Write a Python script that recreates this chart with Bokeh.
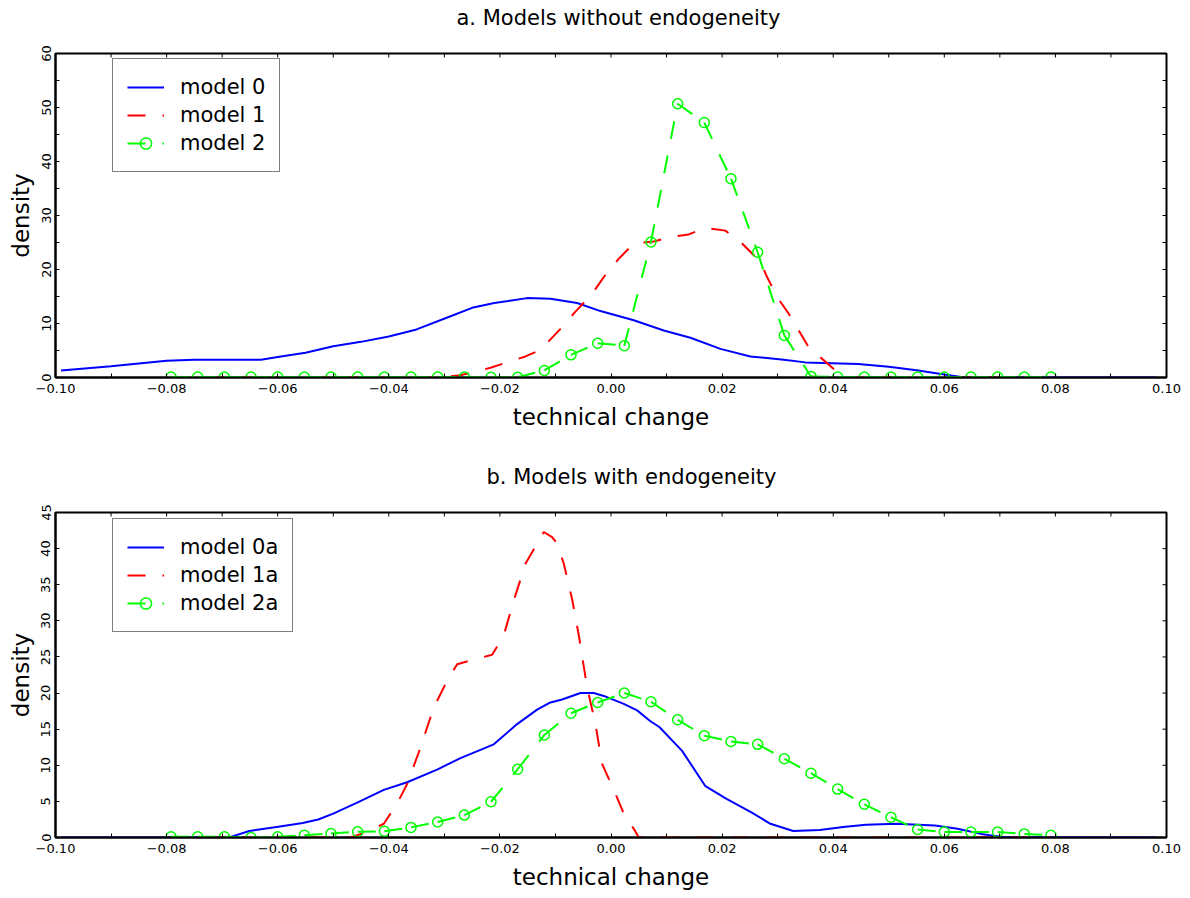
import math
from bokeh.plotting import figure
from bokeh.models import (Legend, LegendItem, Range1d, FixedTicker,
                          ColumnDataSource, CustomJSTickFormatter)
from bokeh.layouts import column
from bokeh.embed import file_html
from bokeh.resources import INLINE

FONT = "DejaVu Sans"

# ---------------- data ----------------
# common evaluation grid of the circle-marked series
grid_x = [-0.0792, -0.0744, -0.0696, -0.0648, -0.0600, -0.0552, -0.0504, -0.0456,
          -0.0408, -0.0360, -0.0312, -0.0264, -0.0216, -0.0168, -0.0120, -0.0072,
          -0.0024, 0.0024, 0.0072, 0.0120, 0.0168, 0.0216, 0.0264, 0.0312,
          0.0360, 0.0408, 0.0456, 0.0504, 0.0552, 0.0600, 0.0648, 0.0696,
          0.0744, 0.0792]

# panel a
m0_x = [-0.099, -0.09, -0.08, -0.075, -0.07, -0.063, -0.06, -0.055, -0.05, -0.045,
        -0.04, -0.035, -0.029, -0.025, -0.021, -0.0151, -0.0109, -0.0061, -0.0019,
        0.0041, 0.0095, 0.0143, 0.0197, 0.0251, 0.0311, 0.035, 0.0445, 0.05, 0.055,
        0.06, 0.063, 0.065, 0.098]
m0_y = [1.3, 2.1, 3.1, 3.3, 3.3, 3.3, 3.8, 4.6, 5.8, 6.6,
        7.6, 8.9, 11.3, 12.9, 13.8, 14.7, 14.6, 13.8, 12.3,
        10.6, 8.7, 7.35, 5.3, 3.9, 3.3, 2.8, 2.5, 2.0, 1.35,
        0.55, 0.1, 0.0, 0.0]

m1_x = [-0.0792, -0.0312, -0.0271, -0.0217, -0.0154, -0.0127, -0.0091, -0.0064,
        -0.0034, -0.0013, 0.0014, 0.0041, 0.0077, 0.0107, 0.014, 0.017, 0.0206,
        0.0236, 0.0269, 0.0281, 0.0299, 0.032, 0.0338, 0.0356, 0.0411, 0.0425, 0.0792]
m1_y = [0.0, 0.0, 0.4, 1.8, 3.9, 5.1, 9.0, 12.2,
        15.5, 18.6, 22.0, 24.8, 25.2, 26.0, 26.5, 27.7, 27.2,
        24.8, 21.4, 18.6, 14.9, 11.8, 8.7, 5.6, 0.7, 0.0, 0.0]

m2_y = [0.1, 0.1, 0.1, 0.1, 0.1, 0.1, 0.1, 0.1, 0.1, 0.1, 0.1, 0.1, 0.05, 0.05,
        1.3, 4.2, 6.35, 5.9, 25.1, 50.7, 47.2, 36.8, 23.2, 7.8, 0.2,
        0.1, 0.1, 0.1, 0.1, 0.1, 0.1, 0.1, 0.1, 0.1]

# panel b
m0a_x = [-0.099, -0.0686, -0.0651, -0.0599, -0.0555, -0.0527, -0.05, -0.0455,
         -0.0409, -0.0367, -0.0313, -0.0271, -0.0211, -0.0169, -0.0133, -0.0109,
         -0.0088, -0.0055, -0.0031, -0.0013, 0.0023, 0.0047, 0.0071, 0.0087,
         0.0128, 0.017, 0.0208, 0.0252, 0.0287, 0.0328, 0.0376, 0.0418, 0.0459,
         0.0514, 0.0583, 0.0624, 0.0666, 0.0707, 0.098]
m0a_y = [0.0, 0.05, 0.9, 1.5, 2.0, 2.5, 3.3, 4.9,
         6.6, 7.65, 9.4, 11.0, 12.9, 15.7, 17.7, 18.7,
         19.1, 20.0, 20.0, 19.6, 18.5, 17.6, 16.1, 15.3,
         12.0, 7.1, 5.35, 3.5, 1.9, 0.9, 1.05, 1.45, 1.75,
         1.9, 1.65, 1.2, 0.5, 0.05, 0.0]

m1a_x = [-0.0792, -0.0469, -0.0442, -0.0409, -0.0385, -0.0367, -0.0346, -0.0319,
         -0.0295, -0.0277, -0.0244, -0.0214, -0.0193, -0.0175, -0.0154, -0.0121,
         -0.0106, -0.0097, -0.0085, -0.0070, -0.0058, -0.0043, -0.0028, -0.0016,
         0.0008, 0.0023, 0.0041, 0.0050, 0.0792]
m1a_y = [0.0, 0.0, 0.7, 1.9, 4.7, 7.4, 11.8, 18.0,
         21.7, 24.0, 24.7, 25.3, 28.0, 32.8, 37.9, 42.3,
         41.6, 40.7, 37.9, 33.0, 28.0, 20.8, 15.7, 10.2,
         6.05, 3.3, 1.2, 0.0, 0.0]

m2a_y = [0.1, 0.1, 0.1, 0.0, 0.1, 0.3, 0.55, 0.8, 0.85, 1.4, 2.15, 3.1, 4.95,
         9.45, 14.2, 17.2, 18.7, 20.0, 18.8, 16.3, 14.1, 13.3, 12.9, 10.9, 8.9,
         6.7, 4.6, 2.8, 1.1, 0.75, 0.75, 0.75, 0.5, 0.3]

x_ticks = [-0.10, -0.08, -0.06, -0.04, -0.02, 0.0, 0.02, 0.04, 0.06, 0.08, 0.10]
x_minor = [-0.09, -0.07, -0.05, -0.03, -0.01, 0.01, 0.03, 0.05, 0.07, 0.09]
x_labels = ["\u22120.10", "\u22120.08", "\u22120.06", "\u22120.04", "\u22120.02",
            "0.00", "0.02", "0.04", "0.06", "0.08", "0.10"]

ya_ticks = [0, 10, 20, 30, 40, 50, 60]
ya_minor = [5, 15, 25, 35, 45, 55]
yb_ticks = [0, 5, 10, 15, 20, 25, 30, 35, 40, 45]

BLUE, RED, GREEN = "#0000ff", "#ff0000", "#00ff00"
DASH = "18 17"


def style_axis(ax, label_standoff):
    ax.axis_line_color = "black"
    ax.axis_line_width = 2
    ax.major_tick_in = 4
    ax.major_tick_out = 0
    ax.minor_tick_in = 4
    ax.minor_tick_out = 0
    ax.major_tick_line_color = "black"
    ax.minor_tick_line_color = "black"
    ax.major_label_text_font = FONT
    ax.major_label_text_color = "black"
    ax.major_label_text_font_size = "13px"
    ax.major_label_standoff = label_standoff
    ax.axis_label_text_font = FONT
    ax.axis_label_text_font_size = "23px"
    ax.axis_label_text_font_style = "normal"
    ax.axis_label_text_color = "black"


def panel(title, title_offset, ymax, yt, ym, curves, height,
          border_top, border_bottom, legend_width, legend_top_gap):
    frame_h = height - border_top - border_bottom
    p = figure(width=1182, height=height, x_range=Range1d(-0.10, 0.10),
               y_range=Range1d(0, ymax), output_backend="svg",
               toolbar_location=None, min_border_left=55, min_border_right=16,
               min_border_top=border_top, min_border_bottom=border_bottom)
    p.grid.visible = False
    p.outline_line_color = "black"
    p.outline_line_width = 2
    p.background_fill_color = "white"
    p.border_fill_color = "white"

    # the trailing empty line keeps the title clear of the frame
    p.title.text = title + "\n"
    p.title.text_font = FONT
    p.title.text_font_size = "21px"
    p.title.text_font_style = "normal"
    p.title.text_color = "black"
    p.title.text_line_height = 1.0
    p.title.align = "left"
    p.title.offset = title_offset
    p.title.standoff = 0

    xa = p.below[0]
    xa.ticker = FixedTicker(ticks=x_ticks, minor_ticks=x_minor)
    xa.formatter = CustomJSTickFormatter(
        args=dict(tvals=x_ticks, tlabels=x_labels),
        code="const k = tvals.findIndex(t => Math.abs(t - tick) < 1e-9);"
             "return k >= 0 ? tlabels[k] : '';")
    xa.axis_label = "technical change"
    style_axis(xa, 6)
    xa.axis_label_standoff = 8

    ya = p.left[0]
    ya.ticker = FixedTicker(ticks=yt, minor_ticks=ym)
    ya.major_label_orientation = "vertical"
    ya.axis_label = "density"
    style_axis(ya, 5)
    ya.axis_label_standoff = 5

    # inward ticks on the top and right edges of the frame
    top_x = x_ticks + x_minor
    p.ray(x=top_x, y=[ymax] * len(top_x), length=4, length_units="screen",
          angle=-math.pi / 2, line_color="black", line_width=1)
    right_y = yt + ym
    p.ray(x=[x_ticks[-1]] * len(right_y), y=right_y, length=4,
          length_units="screen", angle=math.pi, line_color="black", line_width=1)

    items = []
    for (label, xs, ys, color, kind) in curves:
        if kind == "solid":
            r = p.line(xs, ys, line_color=color, line_width=2)
            items.append(LegendItem(label=label, renderers=[r]))
        elif kind == "dash":
            r = p.line(xs, ys, line_color=color, line_width=2, line_dash=DASH)
            items.append(LegendItem(label=label, renderers=[r]))
        else:
            src = ColumnDataSource(dict(x0=xs[:-1], y0=ys[:-1], x1=xs[1:], y1=ys[1:]))
            r1 = p.segment(x0="x0", y0="y0", x1="x1", y1="y1", source=src,
                           line_color=color, line_width=2, line_dash=DASH)
            r2 = p.scatter(xs, ys, marker="circle", size=10, fill_color=None,
                           line_color=color, line_width=1.5)
            items.append(LegendItem(label=label, renderers=[r1, r2]))

    leg = Legend(items=items, location=(57, frame_h - legend_top_gap - 113),
                 border_line_color="black", border_line_width=1,
                 background_fill_color="white", background_fill_alpha=1.0,
                 label_text_font=FONT, label_text_font_size="21px",
                 label_text_color="black",
                 glyph_width=37, glyph_height=28, label_height=28,
                 label_width=legend_width, label_standoff=16,
                 padding=14, spacing=0, margin=0)
    p.add_layout(leg, "center")
    return p


pa = panel("a. Models without endogeneity", 401, 60, ya_ticks, ya_minor,
           [("model 0", m0_x, m0_y, BLUE, "solid"),
            ("model 1", m1_x, m1_y, RED, "dash"),
            ("model 2", grid_x, m2_y, GREEN, "marker")],
           height=440, border_top=53, border_bottom=63, legend_width=84,
           legend_top_gap=6)

pb = panel("b. Models with endogeneity", 431, 45, yb_ticks, [],
           [("model 0a", m0a_x, m0a_y, BLUE, "solid"),
            ("model 1a", m1a_x, m1a_y, RED, "dash"),
            ("model 2a", grid_x, m2a_y, GREEN, "marker")],
           height=456, border_top=72, border_bottom=59, legend_width=97,
           legend_top_gap=7)

layout = column(pa, pb, spacing=0)
open("out.html", "w").write(file_html(layout, INLINE))
